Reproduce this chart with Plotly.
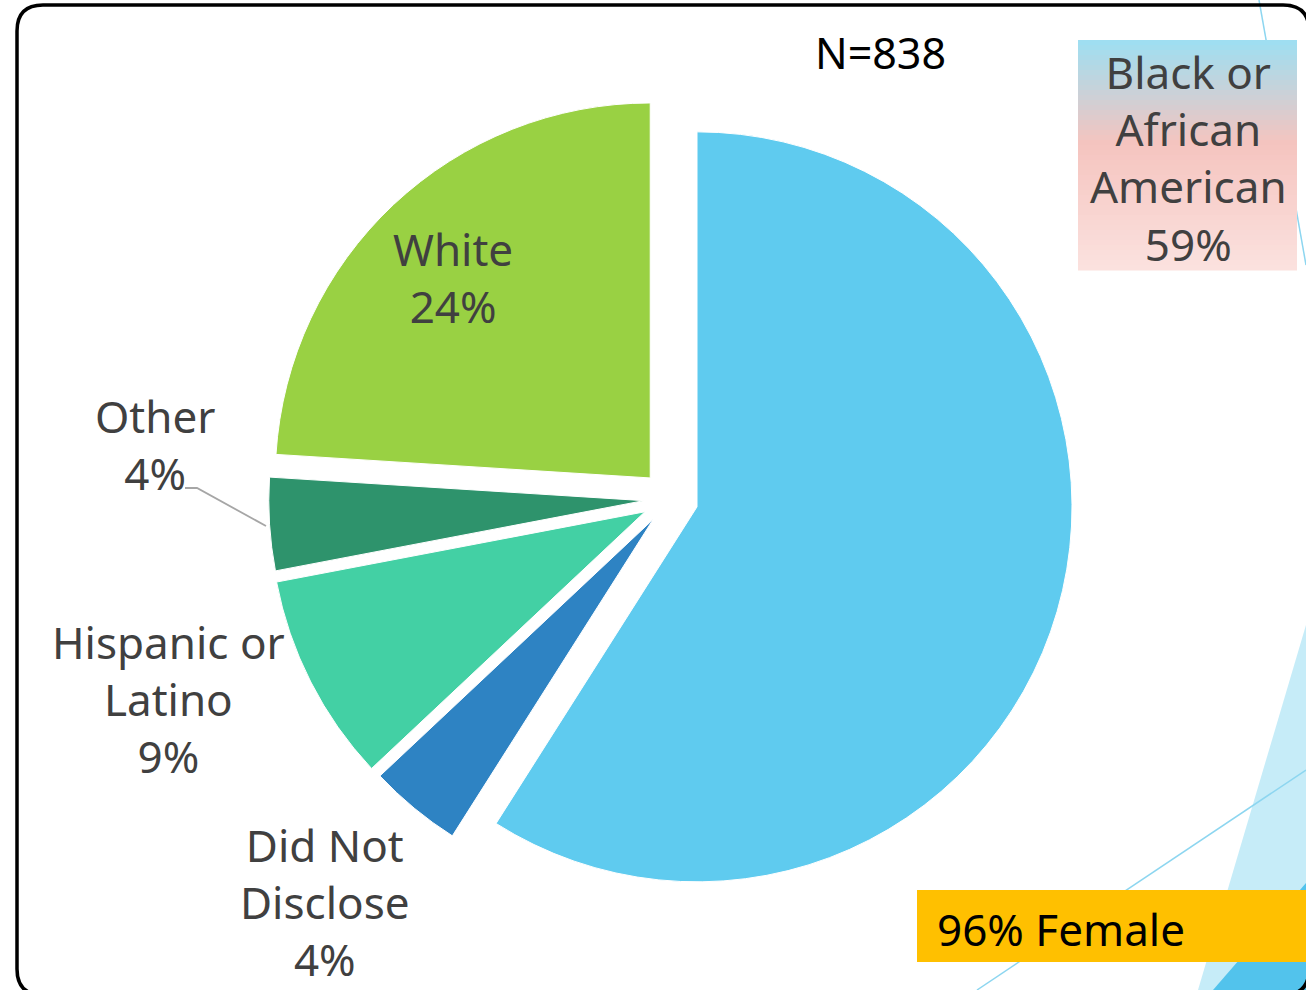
import plotly.graph_objects as go

W, H = 1306, 990

# ---- data ----
labels = ["Black or African American", "Did Not Disclose", "Hispanic or Latino", "Other", "White"]
values = [59, 4, 9, 4, 24]
colors = ["#5FCBEF", "#2E83C3", "#43D0A4", "#2E936C", "#99D143"]
pulls = [0.075, 0.07, 0.075, 0.07, 0.077]
label_texts = [
    "Black or<br>African<br>American<br>59%",
    "Did Not<br>Disclose<br>4%",
    "Hispanic or<br>Latino<br>9%",
    "Other<br>4%",
    "White<br>24%",
]
label_pos = [(1188, 158), (325, 902), (168, 699), (155, 444), (453, 277)]
sample_note = "N=838"
female_note = "96% Female"


def px(x):
    return x / W


def py(y):
    return 1 - y / H


fig = go.Figure()

# pie placement: center (670, 499); radius 375 px after pull shrink
cx, cy = 670, 499
half = 375 * (1 + max(pulls))
fig.add_trace(go.Pie(
    labels=labels,
    values=values,
    pull=pulls,
    sort=False,
    direction="clockwise",
    rotation=0,
    textinfo="none",
    hoverinfo="label+percent",
    showlegend=False,
    marker=dict(colors=colors, line=dict(color="white", width=1)),
    domain=dict(x=[px(cx - half), px(cx + half)], y=[py(cy + half), py(cy - half)]),
))

shapes = []

# slide decorations on the right
shapes.append(dict(type="path", xref="paper", yref="paper",
                   path=f"M {px(1306)},{py(625)} L {px(1198)},{py(990)} L {px(1306)},{py(990)} Z",
                   fillcolor="#C6ECF8", line=dict(width=0), layer="below"))
shapes.append(dict(type="path", xref="paper", yref="paper",
                   path=f"M {px(1306)},{py(883)} L {px(1213)},{py(990)} L {px(1306)},{py(990)} Z",
                   fillcolor="#52C3EC", line=dict(width=0), layer="below"))
shapes.append(dict(type="line", xref="paper", yref="paper",
                   x0=px(1259), y0=py(0), x1=px(1306), y1=py(265),
                   line=dict(color="#8DD6F0", width=1.5), layer="below"))
shapes.append(dict(type="line", xref="paper", yref="paper",
                   x0=px(977), y0=py(990), x1=px(1306), y1=py(770),
                   line=dict(color="#8DD6F0", width=1.5), layer="below"))

# rounded frame
L, T, R, B, rr = 17, 5, 1309, 995, 26
frame = (f"M {px(L)},{py(B - rr)} L {px(L)},{py(T + rr)} Q {px(L)},{py(T)} {px(L + rr)},{py(T)} "
         f"L {px(R - rr)},{py(T)} Q {px(R)},{py(T)} {px(R)},{py(T + rr)} "
         f"L {px(R)},{py(B - rr)} Q {px(R)},{py(B)} {px(R - rr)},{py(B)} "
         f"L {px(L + rr)},{py(B)} Q {px(L)},{py(B)} {px(L)},{py(B - rr)} Z")
shapes.append(dict(type="path", xref="paper", yref="paper", path=frame,
                   line=dict(color="#000000", width=3.5), fillcolor="rgba(0,0,0,0)", layer="below"))

# gradient box behind the Black label (drawn as thin strips)
bx0, bx1, by0, by1 = 1078, 1297, 40, 270
stops = [(0.0, (157, 223, 242)), (0.45, (245, 196, 191)), (1.0, (251, 226, 223))]


def grad(t):
    for (t0, c0), (t1, c1) in zip(stops[:-1], stops[1:]):
        if t <= t1:
            f = (t - t0) / (t1 - t0) if t1 > t0 else 0
            return "rgb(%d,%d,%d)" % tuple(round(a + (b - a) * f) for a, b in zip(c0, c1))
    return "rgb(%d,%d,%d)" % stops[-1][1]


nstrip = 46
sh = (by1 - by0) / nstrip
for i in range(nstrip):
    y0 = by0 + i * sh
    shapes.append(dict(type="rect", xref="paper", yref="paper",
                       x0=px(bx0), x1=px(bx1), y0=py(y0 + sh + 0.6), y1=py(y0),
                       fillcolor=grad((i + 0.5) / nstrip), line=dict(width=0), layer="below"))

# 96% Female box
shapes.append(dict(type="rect", xref="paper", yref="paper",
                   x0=px(917), x1=px(1306), y0=py(962), y1=py(890),
                   fillcolor="#FFC000", line=dict(width=0), layer="below"))

# leader line for "Other"
shapes.append(dict(type="path", xref="paper", yref="paper",
                   path=f"M {px(185)},{py(488)} L {px(197)},{py(488)} L {px(266)},{py(526)}",
                   line=dict(color="#A6A6A6", width=1.8), layer="above"))

annotations = []
font_family = "Noto Sans"
for txt, (x, y) in zip(label_texts, label_pos):
    annotations.append(dict(text=txt, x=px(x), y=py(y), xref="paper", yref="paper",
                            xanchor="center", yanchor="middle", showarrow=False, align="center",
                            font=dict(family=font_family, size=44, color="#404040")))
annotations.append(dict(text=sample_note, x=px(880), y=py(52), xref="paper", yref="paper",
                        xanchor="center", yanchor="middle", showarrow=False,
                        font=dict(family=font_family, size=43, color="#000000")))
annotations.append(dict(text=female_note, x=px(935), y=py(929), xref="paper", yref="paper",
                        xanchor="left", yanchor="middle", showarrow=False,
                        font=dict(family=font_family, size=44, color="#000000")))

fig.update_layout(
    width=W, height=H,
    margin=dict(l=0, r=0, t=0, b=0),
    paper_bgcolor="white", plot_bgcolor="white",
    shapes=shapes, annotations=annotations,
)

fig.write_html("out.html", config={"displayModeBar": False},
               post_script="document.body.style.margin='0';document.body.style.overflow='hidden';")
